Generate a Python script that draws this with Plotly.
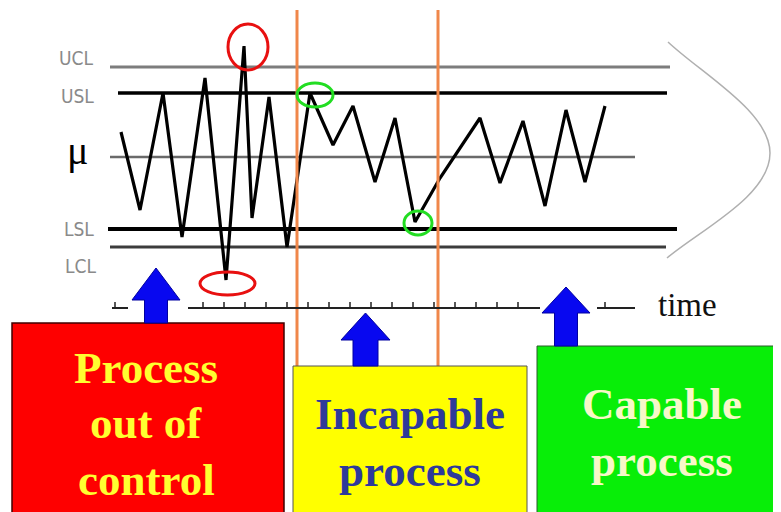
import plotly.graph_objects as go

# ---- data: process measurements over time (mu = 0) ----
time = [121, 140, 163, 182, 205, 226, 244, 252, 269, 287, 310, 333,
        353, 375, 395, 415, 440, 480, 500, 523, 545, 566, 585, 605]
value = [2.5, -5.3, 6.4, -8.0, 7.9, -12.3, 11.1, -6.1, 6.0, -9.0, 6.4, 1.2,
         5.1, -2.5, 3.9, -6.5, -2.1, 3.9, -2.6, 3.6, -4.9, 4.7, -2.5, 5.1]

limit_names = ["UCL", "USL", "μ", "LSL", "LCL"]
limit_values = [9.0, 6.4, 0.0, -7.2, -9.0]
limit_starts = [110, 118, 110, 108, 110]
limit_ends = [670, 667, 635, 677, 666]

box_labels = [["Process", "out of", "control"], ["Incapable", "process"], ["Capable", "process"]]

MU_PX = 157.0   # pixel row of mu
SCALE = 10.0    # pixels per unit
OFF = 8         # page body margin compensation

fig = go.Figure()

# limit lines
styles = [("#7d7d7d", 3), ("#000000", 3.5), ("#6a6a6a", 2.5), ("#000000", 4), ("#3c3c3c", 3)]
for v, x0, x1, (c, w) in zip(limit_values, limit_starts, limit_ends, styles):
    fig.add_trace(go.Scatter(x=[x0, x1], y=[v, v], mode="lines",
                             line=dict(color=c, width=w), hoverinfo="skip", showlegend=False))

# process trace
fig.add_trace(go.Scatter(x=time, y=value, mode="lines",
                         line=dict(color="#000000", width=3.2), showlegend=False))

shapes = []
ann = []

def rect(x0, y0, x1, y1, fill, line="#333333", lw=1):
    shapes.append(dict(type="rect", xref="x2", yref="y2", x0=x0, y0=y0, x1=x1, y1=y1,
                       fillcolor=fill, line=dict(color=line, width=lw), layer="above"))

def seg(x0, y0, x1, y1, color, w):
    shapes.append(dict(type="line", xref="x2", yref="y2", x0=x0, y0=y0, x1=x1, y1=y1,
                       line=dict(color=color, width=w)))

def ell(cx, cy, rx, ry, color):
    shapes.append(dict(type="circle", xref="x2", yref="y2", x0=cx - rx, x1=cx + rx,
                       y0=cy - ry, y1=cy + ry, line=dict(color=color, width=3)))

def arrow(cx, tip, base, bottom, hw, sw):
    p = (f"M {cx},{tip} L {cx+hw},{base} L {cx+sw},{base} L {cx+sw},{bottom} "
         f"L {cx-sw},{bottom} L {cx-sw},{base} L {cx-hw},{base} Z")
    shapes.append(dict(type="path", xref="x2", yref="y2", path=p,
                       fillcolor="#0808f0", line=dict(color="#0000a0", width=1)))

# orange separators
seg(297, 10, 297, 366, "#f0874a", 3)
seg(438, 10, 438, 366, "#f0874a", 3)

# bell curve
shapes.append(dict(type="path", xref="x2", yref="y2",
                   path="M 668,42 C 702,74 770,112 770,153 C 770,196 700,230 667,258",
                   line=dict(color="#b0b0b0", width=1.5)))

# time axis
for a, b in [(112, 128), (188, 540), (597, 635)]:
    seg(a, 308, b, 308, "#222222", 2)
ticks = [115] + [203 + 21 * k for k in range(16)] + [605]
for t in ticks:
    seg(t, 308, t, 302, "#222222", 1.5)

# circles
ell(248, 47, 20, 23, "#e81010")
ell(227.5, 283.5, 27.5, 11.5, "#e81010")
ell(315, 95, 18, 12, "#22dd22")
ell(418, 223, 14, 12, "#22dd22")

# boxes
rect(12, 323, 284, 520, "#fe0000", line="#400000", lw=1.5)
rect(293, 366, 527, 520, "#ffff00", line="#555555", lw=1)
rect(537, 346, 781, 520, "#08ee08", line="#2a5a2a", lw=1)

# arrows
arrow(156, 268, 300, 323, 24, 11.5)
arrow(365.5, 313, 340, 366, 24.5, 12.5)
arrow(566, 287, 313, 346, 24, 11.5)

# limit labels
narrow = "Liberation Sans Narrow, DejaVu Sans Condensed, Arial Narrow, sans-serif"
lab_pos = [(76, 58, 19), (77, 96, 19), (77, 150, 40), (79, 229, 19), (80, 266, 19)]
for name, (x, y, s) in zip(limit_names, lab_pos):
    fam = "Liberation Serif, serif" if name == "μ" else narrow
    col = "#000000" if name == "μ" else "#8a8a8a"
    ann.append(dict(xref="x2", yref="y2", x=x, y=y, text=name, showarrow=False,
                    font=dict(family=fam, size=s, color=col), xanchor="center", yanchor="middle"))

ann.append(dict(xref="x2", yref="y2", x=687, y=305, text="time", showarrow=False,
                font=dict(family="Liberation Serif, serif", size=33, color="#111111"),
                xanchor="center", yanchor="middle"))

serif_b = "Liberation Serif, Times New Roman, serif"
box_text = [
    (146, [368, 423, 480], "#ffff30"),
    (410, [414, 471], "#2e3a9a"),
    (662, [404, 461], "#f8f8c8"),
]
for lines, (cx, ys, col) in zip(box_labels, box_text):
    for t, y in zip(lines, ys):
        ann.append(dict(xref="x2", yref="y2", x=cx, y=y, text=f"<b>{t}</b>", showarrow=False,
                        font=dict(family=serif_b, size=45, color=col),
                        xanchor="center", yanchor="middle"))

fig.update_layout(
    width=781 - OFF, height=512 - OFF, autosize=False,
    margin=dict(l=0, r=0, t=0, b=0),
    paper_bgcolor="white", plot_bgcolor="white",
    xaxis=dict(range=[OFF, 781], visible=False, fixedrange=True),
    yaxis=dict(range=[(MU_PX - 512) / SCALE, (MU_PX - OFF) / SCALE], visible=False, fixedrange=True),
    xaxis2=dict(range=[OFF, 781], visible=False, overlaying="x", fixedrange=True),
    yaxis2=dict(range=[512, OFF], visible=False, overlaying="y", fixedrange=True),
    shapes=shapes, annotations=ann, showlegend=False,
)

fig.write_html("out.html")
